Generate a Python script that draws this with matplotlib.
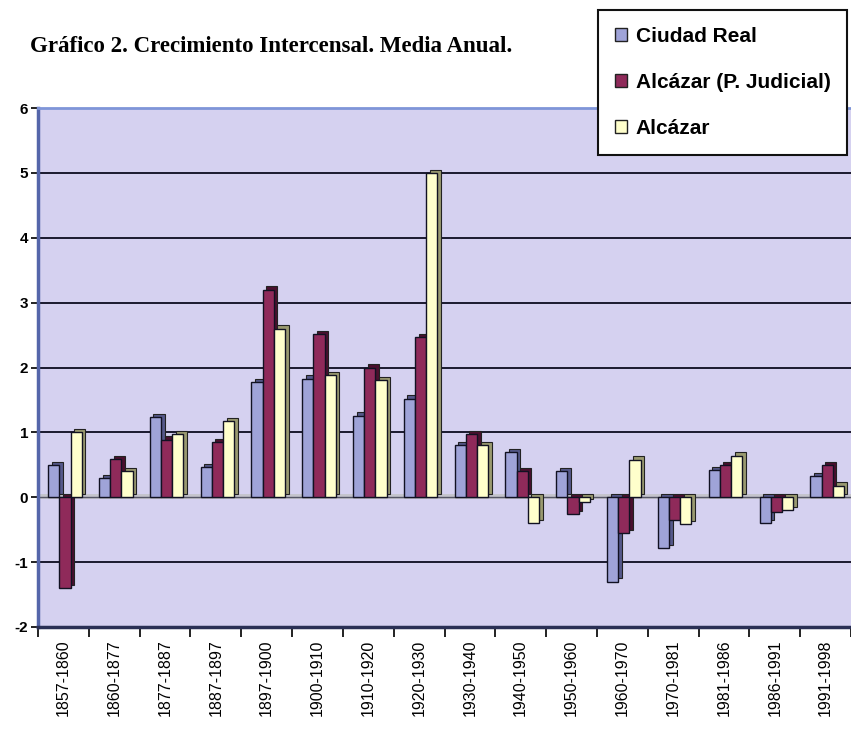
import matplotlib
matplotlib.use("Agg")
import matplotlib.pyplot as plt
import numpy as np
from matplotlib.patches import Patch

categories = ["1857-1860", "1860-1877", "1877-1887", "1887-1897", "1897-1900",
              "1900-1910", "1910-1920", "1920-1930", "1930-1940", "1940-1950",
              "1950-1960", "1960-1970", "1970-1981", "1981-1986", "1986-1991",
              "1991-1998"]
ciudad_real = [0.49, 0.29, 1.24, 0.46, 1.78, 1.83, 1.26, 1.52, 0.80, 0.70,
               0.40, -1.30, -0.78, 0.42, -0.40, 0.32]
alcazar_pj = [-1.40, 0.59, 0.89, 0.85, 3.20, 2.52, 2.00, 2.47, 0.97, 0.40,
              -0.26, -0.55, -0.35, 0.49, -0.22, 0.49]
alcazar = [1.00, 0.40, 0.97, 1.17, 2.60, 1.88, 1.80, 5.00, 0.80, -0.40,
           -0.07, 0.58, -0.42, 0.64, -0.20, 0.18]
series_names = ["Ciudad Real", "Alcázar (P. Judicial)", "Alcázar"]
yticks = [-2, -1, 0, 1, 2, 3, 4, 5, 6]

front_colors = ["#9fa3d8", "#8f2a5a", "#ffffcc"]
side_colors = ["#55588a", "#4a0f2e", "#9a9a70"]

fig = plt.figure(figsize=(8.51, 7.29), dpi=100)
ax = fig.add_axes([38/851, 102/729, 813/851, 519/729])
ax.set_facecolor("#d5d1f0")

x = np.arange(len(categories))
w = 0.22
offsets = [-0.22, 0.0, 0.22]
shift = 0.03
dx, dy = 0.07, 0.05
data = [ciudad_real, alcazar_pj, alcazar]

for i, vals in enumerate(data):
    xs = x + offsets[i] + shift
    ax.bar(xs + dx, vals, bottom=dy, width=w, color=side_colors[i],
           edgecolor="#222222", linewidth=0.8, zorder=2)
    ax.bar(xs, vals, width=w, color=front_colors[i], edgecolor="#111122",
           linewidth=1.0, zorder=3)

for yv in [-1, 1, 2, 3, 4, 5]:
    ax.axhline(yv, color="#1a1a2e", lw=1.4, zorder=1)
ax.axhline(0.02, color="#c4c4cc", lw=3.5, zorder=1.5)
ax.axhline(0, color="#555566", lw=1.0, zorder=1.6)

ax.set_xlim(-0.5, len(categories) - 0.5)
ax.set_ylim(-2, 6)
ax.set_yticks(yticks)
ax.set_yticklabels([str(v) for v in yticks], fontfamily="Liberation Sans",
                   fontweight="bold", fontsize=11)
ax.set_xticks(x)
ax.set_xticklabels(categories, rotation=90, fontfamily="Liberation Sans",
                   fontsize=11.5)
ax.tick_params(axis="x", which="major", length=0, pad=9)
ax.set_xticks(np.arange(-0.5, len(categories)), minor=True)
ax.tick_params(axis="x", which="minor", length=7, width=1.3, color="#111111")
ax.tick_params(axis="y", length=5, width=1.3, color="#111111", pad=2)

ax.spines["left"].set_color("#5566aa")
ax.spines["left"].set_linewidth(2.5)
ax.spines["top"].set_color("#7f95d8")
ax.spines["top"].set_linewidth(2)
ax.spines["bottom"].set_color("#2a3055")
ax.spines["bottom"].set_linewidth(2.5)
ax.spines["right"].set_visible(False)

fig.text(30/851, 1 - 47/729, "Gráfico 2. Crecimiento Intercensal. Media Anual.",
         fontfamily="Liberation Serif", fontweight="bold", fontsize=16.5,
         va="center", ha="left")

handles = [Patch(facecolor=front_colors[i], edgecolor="#222222", linewidth=1.0)
           for i in range(3)]
leg = fig.legend(handles, series_names, loc="upper left",
                 bbox_to_anchor=(598/851, 1 - 10/729),
                 prop={"family": "Liberation Sans", "weight": "bold", "size": 15},
                 frameon=True, fancybox=False, edgecolor="#111111",
                 framealpha=1, borderpad=0.8, labelspacing=1.3,
                 handlelength=0.6, handleheight=0.6, handletextpad=0.4,
                 borderaxespad=0)
leg.get_frame().set_linewidth(1.5)
leg.set_zorder(10)

fig.savefig("out.png", dpi=100)
